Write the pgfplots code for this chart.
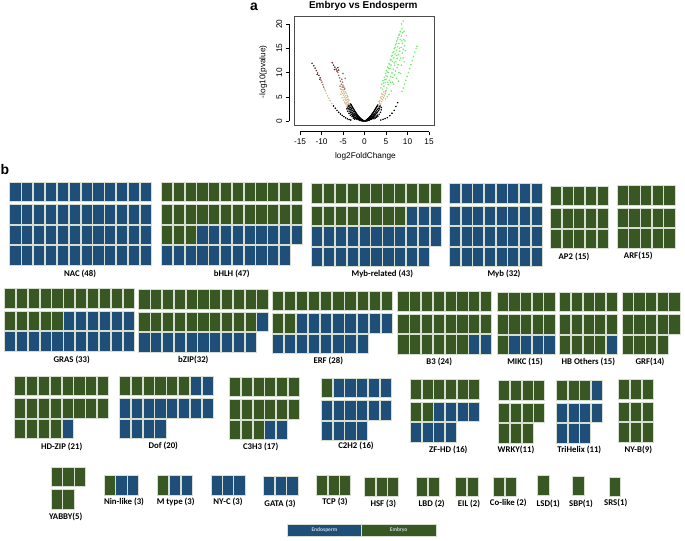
\documentclass[border=0pt]{standalone}
\usepackage{fontspec}
\setmainfont{Liberation Sans}
\newfontfamily\calfont{Carlito}
\usepackage{pgfplots}
\pgfplotsset{compat=1.18}
\definecolor{eblue}{RGB}{31,78,121}
\definecolor{egreen}{RGB}{57,87,35}
\definecolor{tedge}{RGB}{214,222,210}
\definecolor{vtan}{RGB}{208,188,146}
\definecolor{vrose}{RGB}{158,104,96}
\definecolor{vbrown}{RGB}{105,40,40}
\definecolor{vgreen}{RGB}{112,236,112}
\definecolor{legtxt}{RGB}{205,212,222}
\pgfdeclareplotmark{tile}{\pgfpathrectangle{\pgfpoint{-5.6bp}{-9.8bp}}{\pgfpoint{11.2bp}{19.6bp}}\pgfusepathqfillstroke}
\pgfplotsset{
 waf/.style={anchor=north west, scale only axis, hide axis, clip=false, y dir=reverse, xmin=0.5, ymin=0.4},
 tB/.style={only marks, mark=tile, mark options={fill=eblue, draw=tedge, line width=0.6bp}},
 tG/.style={only marks, mark=tile, mark options={fill=egreen, draw=tedge, line width=0.6bp}},
}
\tikzset{wl/.style={font=\calfont\bfseries\fontsize{8.8}{9}\selectfont, inner sep=0pt}}
\begin{document}
\begin{tikzpicture}
\useasboundingbox (0bp,0bp) rectangle (685bp,-541bp);
% ---------------- panel a: volcano plot ----------------
\begin{axis}[at={(294.3bp,-16.7bp)}, anchor=north west, scale only axis, width=140bp, height=108.3bp,
 xmin=-16.33, xmax=16.23, ymin=-0.82, ymax=21.5, xtick=\empty, ytick=\empty,
 axis line style={draw=black!70, line width=0.5bp}]
\addplot[only marks, mark=*, mark size=0.55bp, color=black] coordinates {(-0.2,0.02)(-0.3,0.05)(-0.4,0.03)(-0.5,0.08)(-0.5,0.15)(-0.6,0.05)(-0.7,0.12)(-0.7,0.2)(-0.8,0.1)(-0.9,0.25)(-0.9,0.15)(-1.0,0.2)(-1.0,0.35)(-1.1,0.15)(-1.1,0.4)(-1.2,0.3)(-1.3,0.5)(-1.3,0.25)(-1.4,0.4)(-1.5,0.6)(-1.5,0.3)(-1.6,0.8)(-1.7,0.5)(-1.7,0.9)(-1.8,0.4)(-1.9,1.0)(-1.9,0.6)(-2.0,1.2)(-2.0,0.5)(-2.1,0.8)(-2.2,1.4)(-2.2,0.7)(-2.3,1.1)(-2.4,1.6)(-2.4,0.8)(-2.5,1.3)(-2.6,1.9)(-2.6,1.0)(-2.7,1.5)(-2.8,2.2)(-2.8,1.2)(-2.9,1.8)(-3.0,2.5)(-3.0,1.4)(-3.1,2.1)(-3.2,2.8)(-3.2,1.7)(-3.3,2.4)(-3.4,3.1)(-3.4,2.0)(-3.5,2.7)(-3.6,3.3)(-3.6,2.3)(-3.7,3.0)(-3.8,2.6)
(-0.1,0.01)(-0.35,0.1)(-0.45,0.2)(-0.55,0.25)(-0.65,0.35)(-0.75,0.3)(-0.85,0.45)(-0.95,0.55)(-1.05,0.6)(-1.15,0.7)(-1.25,0.8)(-1.35,0.9)(-1.45,1.0)(-1.55,1.1)(-1.65,1.2)(-1.75,1.3)(-1.85,1.5)(-1.95,1.6)(-2.05,1.75)(-2.15,1.9)(-2.25,2.0)(-2.35,2.2)(-2.45,2.3)(-2.55,2.5)(-2.65,2.6)(-2.75,2.8)(-2.85,2.9)(-2.95,3.1)(-3.05,3.2)(-3.15,3.4)(-3.3,3.5)(-2.3,0.4)(-2.6,0.6)(-2.9,0.9)(-3.3,1.2)(-3.6,1.6)(-3.9,2.0)(-4.1,2.5)(-4.0,2.9)(-3.9,3.2)
(0.2,0.02)(0.3,0.06)(0.4,0.04)(0.5,0.1)(0.6,0.18)(0.6,0.06)(0.7,0.12)(0.8,0.22)(0.8,0.1)(0.9,0.3)(1.0,0.18)(1.0,0.35)(1.1,0.45)(1.1,0.22)(1.2,0.3)(1.3,0.55)(1.4,0.35)(1.4,0.7)(1.5,0.45)(1.6,0.85)(1.6,0.4)(1.7,0.6)(1.8,1.0)(1.8,0.5)(1.9,0.75)(2.0,1.2)(2.1,0.65)(2.1,0.95)(2.2,1.4)(2.3,1.1)(2.4,1.6)(2.4,0.8)(2.5,1.3)(2.6,1.85)(2.7,1.5)(2.7,1.0)(2.8,2.1)(2.9,1.7)(3.0,2.4)(3.0,1.2)(3.1,1.9)(3.2,2.6)(3.3,2.2)(3.4,2.9)(3.5,2.5)(3.6,3.1)
(0.1,0.01)(0.35,0.12)(0.45,0.2)(0.55,0.28)(0.65,0.35)(0.75,0.4)(0.85,0.5)(0.95,0.6)(1.05,0.65)(1.15,0.75)(1.25,0.85)(1.35,0.95)(1.45,1.05)(1.55,1.15)(1.65,1.3)(1.75,1.4)(1.85,1.55)(1.95,1.65)(2.05,1.8)(2.15,1.9)(2.25,2.05)(2.35,2.2)(2.45,2.35)(2.55,2.5)(2.65,2.65)(2.75,2.8)(2.85,2.95)(2.95,3.1)(3.1,3.3)(2.2,0.45)(2.5,0.6)(2.8,0.8)(3.1,1.0)(3.4,1.4)(3.7,1.8)(3.9,2.3)(3.9,2.8)
(-3.2,0.2)(-3.6,0.3)(-4.0,0.45)(-4.4,0.65)(-4.8,0.9)(-5.2,1.15)(-5.6,1.45)(-6.0,1.8)(-6.4,2.2)(-6.8,2.65)(-7.2,3.1)
(3.8,0.2)(4.3,0.35)(4.8,0.5)(5.3,0.7)(5.9,1.1)(6.4,1.6)(6.9,2.2)(7.3,3.0)(7.7,3.8)};
\addplot[only marks, mark=*, mark size=0.55bp, color=vtan] coordinates {(-7.6,3.6)(-8.0,4.2)(-8.3,4.7)(-8.6,5.2)(-8.9,5.7)(-9.1,6.2)(-9.3,6.6)
(-3.7,3.6)(-3.8,4.0)(-3.9,3.4)(-4.0,4.4)(-4.1,3.8)(-4.2,4.8)(-4.3,4.2)(-4.4,5.2)(-4.5,4.5)(-4.6,5.6)(-4.7,4.9)(-4.8,6.0)(-4.9,5.3)(-5.0,6.4)(-5.1,5.7)(-4.0,3.1)(-4.3,3.5)(-4.6,3.9)(-4.9,4.3)(-5.2,4.8)(-5.5,5.5)(-3.9,5.0)(-4.2,5.7)(-3.6,4.3)(-5.3,6.5)(-4.0,5.3)(-4.4,6.0)(-4.7,6.5)(-5.4,6.0)(-5.6,6.6)(-3.8,4.5)(-4.5,3.7)(-3.5,3.5)
(3.3,3.3)(3.5,3.7)(3.6,4.2)(3.8,3.5)(3.9,4.6)(4.0,4.0)(4.1,5.1)(4.2,4.4)(4.3,5.5)(4.4,4.8)(4.5,6.0)(4.6,5.2)(3.4,4.0)(3.7,4.9)(4.0,5.6)(4.8,5.6)(5.0,6.3)(4.9,4.6)(5.3,5.0)};
\addplot[only marks, mark=*, mark size=0.55bp, color=vrose] coordinates {(-5.2,7.0)(-5.4,7.6)(-5.6,8.2)(-5.3,8.6)(-5.8,8.9)(-6.0,9.4)(-5.0,7.4)(-4.8,7.0)(-5.1,8.0)(-6.2,10.0)(-4.6,6.6)(-5.7,7.2)(-4.5,8.8)(-5.0,9.8)(-9.5,7.0)(-9.7,7.5)(-9.9,8.0)(-10.1,8.4)};
\addplot[only marks, mark=*, mark size=0.55bp, color=vbrown] coordinates {(-7.5,12.0)(-7.2,11.5)(-6.9,11.1)(-6.6,10.7)(-6.4,10.3)(-7.0,10.6)(-6.2,11.0)(-6.0,10.5)(-10.3,8.9)(-10.6,9.4)(-10.9,9.9)(-11.2,10.4)(-11.5,10.9)(-11.8,11.4)(-12.2,11.9)(-10.4,8.6)(-11.0,9.6)};
\addplot[only marks, mark=*, mark size=0.55bp, color=vgreen] coordinates {(3.8,6.8)(4.0,7.6)(4.2,6.5)(4.3,8.3)(4.5,7.2)(4.6,9.0)(4.8,7.9)(4.9,9.8)(5.0,8.6)(5.1,10.4)(5.2,6.8)(5.3,9.2)(5.4,11.1)(5.5,7.5)(5.6,10.0)(5.7,11.8)(5.8,8.4)(5.9,10.8)(6.0,12.6)(6.1,9.2)(6.2,11.5)(6.3,13.4)(6.4,9.9)(6.5,12.3)(6.6,14.1)(6.7,10.7)(6.8,13.0)(6.9,14.9)(7.0,11.5)(7.1,13.8)(7.2,15.7)(7.3,12.2)(7.4,14.6)(7.5,16.5)(7.6,12.9)(7.7,15.3)(7.8,17.2)(7.9,13.7)(8.0,16.0)(8.1,17.9)(8.2,14.4)(8.3,16.8)(8.4,18.5)(8.5,15.2)(8.6,17.5)(8.7,19.0)(8.8,16.0)(8.9,18.2)(9.0,20.6)(9.1,16.8)(9.3,15.5)(9.0,13.0)(8.6,11.5)(8.0,10.0)(7.4,8.8)(6.8,7.6)(6.2,6.2)(5.7,5.5)(4.9,6.0)(7.9,8.2)(8.4,9.8)(9.2,12.2)(9.5,14.5)(9.7,17.6)(6.5,8.0)(7.0,9.5)(7.6,11.0)(8.2,12.5)(8.8,14.0)
(4.4,7.8)(4.7,8.5)(5.0,9.3)(5.3,10.1)(5.6,10.9)(5.9,11.7)(6.2,12.6)(6.5,13.5)(6.8,14.3)(7.1,15.2)(7.4,16.0)(7.7,16.9)(8.0,17.7)(8.3,18.4)(6.0,8.0)(6.6,9.0)(7.2,10.3)(7.8,11.6)(8.4,13.0)(9.0,14.8)(9.4,16.5)(9.2,18.5)(8.6,20.0)(5.4,8.0)(6.9,12.0)(7.5,13.5)(8.1,15.0)(8.7,16.5)
(8.7,6.1)(9.0,6.8)(9.3,7.6)(9.6,8.4)(9.9,9.2)(10.2,10.0)(10.5,10.8)(10.8,11.6)(11.1,12.4)(11.4,13.3)(11.7,14.2)(12.0,15.0)(12.2,15.4)};
\end{axis}
\begin{axis}[at={(300bp,-24bp)}, anchor=north west, scale only axis, width=129bp, height=97bp,
 xmin=-15, xmax=15, ymin=0, ymax=20, axis x line*=bottom, axis y line*=left,
 axis line style={-, line width=0.5bp},
 xtick={-15,-10,-5,0,5,10,15}, ytick={0,5,10,15,20},
 tick align=outside, major tick length=3.5bp, tick style={line width=0.5bp, black},
 x axis line style={yshift=-10.7bp}, y axis line style={xshift=-10.7bp},
 xtick style={yshift=-10.7bp}, ytick style={xshift=-10.7bp},
 xticklabel style={yshift=-10.7bp}, yticklabel style={xshift=-10.7bp, rotate=90, anchor=south},
 tick label style={font=\fontsize{8.3}{9}\selectfont},
 /pgf/number format/assume math mode=true]
\end{axis}
\node[font=\bfseries\fontsize{10}{11}\selectfont] at (363.3bp,-6bp) {Embryo vs Endosperm};
\node[font=\fontsize{8.3}{9}\selectfont] at (365.5bp,-156.7bp) {log2FoldChange};
\node[font=\fontsize{8.3}{9}\selectfont, rotate=90] at (263.3bp,-71.7bp) {-log10(pvalue)};
\node[font=\bfseries\fontsize{14}{15}\selectfont] at (254bp,-7.3bp) {a};
\node[font=\bfseries\fontsize{14}{15}\selectfont] at (5bp,-170bp) {b};
% ---------------- panel b: waffle grids ----------------
% NAC
\begin{axis}[waf, at={(9.3bp,-181.7bp)}, width=142.44bp, height=83.64bp, xmax=12.5, ymax=4.5]
\addplot[tB] coordinates {(1,0.9)(2,0.9)(3,0.9)(4,0.9)(5,0.9)(6,0.9)(7,0.9)(8,0.9)(9,0.9)(10,0.9)(11,0.9)(12,0.9)(1,2)(2,2)(3,2)(4,2)(5,2)(6,2)(7,2)(8,2)(9,2)(10,2)(11,2)(12,2)(1,3)(2,3)(3,3)(4,3)(5,3)(6,3)(7,3)(8,3)(9,3)(10,3)(11,3)(12,3)(1,4)(2,4)(3,4)(4,4)(5,4)(6,4)(7,4)(8,4)(9,4)(10,4)(11,4)(12,4)};
\end{axis}
% bHLH
\begin{axis}[waf, at={(161bp,-181.7bp)}, width=141.6bp, height=83.64bp, xmax=12.5, ymax=4.5]
\addplot[tG] coordinates {(1,0.9)(2,0.9)(3,0.9)(4,0.9)(5,0.9)(6,0.9)(7,0.9)(8,0.9)(9,0.9)(10,0.9)(11,0.9)(12,0.9)(1,2)(2,2)(3,2)(4,2)(5,2)(6,2)(7,2)(8,2)(9,2)(10,2)(11,2)(12,2)(1,3)(2,3)(3,3)};
\addplot[tB] coordinates {(4,3)(5,3)(6,3)(7,3)(8,3)(9,3)(10,3)(11,3)(12,3)(1,4)(2,4)(3,4)(4,4)(5,4)(6,4)(7,4)(8,4)(9,4)(10,4)(11,4)};
\end{axis}
% Myb-related
\begin{axis}[waf, at={(311bp,-183.3bp)}, width=130.68bp, height=83.64bp, xmax=11.5, ymax=4.5]
\addplot[tG] coordinates {(1,0.9)(2,0.9)(3,0.9)(4,0.9)(5,0.9)(6,0.9)(7,0.9)(8,0.9)(9,0.9)(10,0.9)(11,0.9)(1,2)(2,2)(3,2)(4,2)(5,2)(6,2)(7,2)(8,2)};
\addplot[tB] coordinates {(9,2)(10,2)(11,2)(1,3)(2,3)(3,3)(4,3)(5,3)(6,3)(7,3)(8,3)(9,3)(10,3)(11,3)(1,4)(2,4)(3,4)(4,4)(5,4)(6,4)(7,4)(8,4)(9,4)(10,4)};
\end{axis}
% Myb
\begin{axis}[waf, at={(449bp,-183.3bp)}, width=93.36bp, height=83.64bp, xmax=8.5, ymax=4.5]
\addplot[tB] coordinates {(1,0.9)(2,0.9)(3,0.9)(4,0.9)(5,0.9)(6,0.9)(7,0.9)(8,0.9)(1,2)(2,2)(3,2)(4,2)(5,2)(6,2)(7,2)(8,2)(1,3)(2,3)(3,3)(4,3)(5,3)(6,3)(7,3)(8,3)(1,4)(2,4)(3,4)(4,4)(5,4)(6,4)(7,4)(8,4)};
\end{axis}
% AP2
\begin{axis}[waf, at={(550bp,-185.7bp)}, width=58.35bp, height=63.24bp, xmax=5.5, ymax=3.5]
\addplot[tG] coordinates {(1,0.9)(2,0.9)(3,0.9)(4,0.9)(5,0.9)(1,2)(2,2)(3,2)(4,2)(5,2)(1,3)(2,3)(3,3)(4,3)(5,3)};
\end{axis}
% ARF
\begin{axis}[waf, at={(616.7bp,-185bp)}, width=58.35bp, height=63.24bp, xmax=5.5, ymax=3.5]
\addplot[tG] coordinates {(1,0.9)(2,0.9)(3,0.9)(4,0.9)(5,0.9)(1,2)(2,2)(3,2)(4,2)(5,2)(1,3)(2,3)(3,3)(4,3)(5,3)};
\end{axis}
% GRAS
\begin{axis}[waf, at={(4bp,-288.3bp)}, width=130.35bp, height=63.24bp, xmax=11.5, ymax=3.5]
\addplot[tG] coordinates {(1,0.9)(2,0.9)(3,0.9)(4,0.9)(5,0.9)(6,0.9)(7,0.9)(8,0.9)(9,0.9)(10,0.9)(11,0.9)(1,2)(2,2)(3,2)(4,2)(5,2)};
\addplot[tB] coordinates {(6,2)(7,2)(8,2)(9,2)(10,2)(11,2)(1,3)(2,3)(3,3)(4,3)(5,3)(6,3)(7,3)(8,3)(9,3)(10,3)(11,3)};
\end{axis}
% bZIP
\begin{axis}[waf, at={(138.3bp,-289.3bp)}, width=129.8bp, height=63.24bp, xmax=11.5, ymax=3.5]
\addplot[tG] coordinates {(1,0.9)(2,0.9)(3,0.9)(4,0.9)(5,0.9)(6,0.9)(7,0.9)(8,0.9)(9,0.9)(10,0.9)(11,0.9)(1,2)(2,2)(3,2)(4,2)(5,2)(6,2)(7,2)(8,2)(9,2)(10,2)};
\addplot[tB] coordinates {(11,2)(1,3)(2,3)(3,3)(4,3)(5,3)(6,3)(7,3)(8,3)(9,3)(10,3)};
\end{axis}
% ERF
\begin{axis}[waf, at={(271.7bp,-290.7bp)}, width=121bp, height=63.24bp, xmax=10.5, ymax=3.5]
\addplot[tG] coordinates {(1,0.9)(2,0.9)(3,0.9)(4,0.9)(5,0.9)(6,0.9)(7,0.9)(8,0.9)(9,0.9)(10,0.9)(1,2)(2,2)};
\addplot[tB] coordinates {(3,2)(4,2)(5,2)(6,2)(7,2)(8,2)(9,2)(10,2)(1,3)(2,3)(3,3)(4,3)(5,3)(6,3)(7,3)(8,3)};
\end{axis}
% B3
\begin{axis}[waf, at={(397.3bp,-291bp)}, width=94.4bp, height=63.24bp, xmax=8.5, ymax=3.5]
\addplot[tG] coordinates {(1,0.9)(2,0.9)(3,0.9)(4,0.9)(5,0.9)(6,0.9)(7,0.9)(8,0.9)(1,2)(2,2)(3,2)(4,2)(5,2)(6,2)(7,2)(8,2)(1,3)(2,3)(3,3)(4,3)(5,3)(6,3)};
\addplot[tB] coordinates {(7,3)(8,3)};
\end{axis}
% MIKC
\begin{axis}[waf, at={(496.7bp,-291.7bp)}, width=58.35bp, height=63.24bp, xmax=5.5, ymax=3.5]
\addplot[tG] coordinates {(1,0.9)(2,0.9)(3,0.9)(4,0.9)(5,0.9)(1,2)(2,2)(3,2)(4,2)(5,2)(1,3)};
\addplot[tB] coordinates {(2,3)(3,3)(4,3)(5,3)};
\end{axis}
% HB Others
\begin{axis}[waf, at={(559.3bp,-291.7bp)}, width=58.35bp, height=63.24bp, xmax=5.5, ymax=3.5]
\addplot[tG] coordinates {(1,0.9)(2,0.9)(3,0.9)(4,0.9)(5,0.9)(1,2)(2,2)(3,2)(4,2)(5,2)(1,3)(2,3)(3,3)(4,3)};
\addplot[tB] coordinates {(5,3)};
\end{axis}
% GRF
\begin{axis}[waf, at={(621.7bp,-291.7bp)}, width=58.35bp, height=63.24bp, xmax=5.5, ymax=3.5]
\addplot[tG] coordinates {(1,0.9)(2,0.9)(3,0.9)(4,0.9)(5,0.9)(1,2)(2,2)(3,2)(4,2)(5,2)(1,3)(2,3)(3,3)(4,3)};
\end{axis}
% HD-ZIP
\begin{axis}[waf, at={(14bp,-375.7bp)}, width=95bp, height=63.24bp, xmax=8.5, ymax=3.5]
\addplot[tG] coordinates {(1,0.9)(2,0.9)(3,0.9)(4,0.9)(5,0.9)(6,0.9)(7,0.9)(8,0.9)(1,2)(2,2)(3,2)(4,2)(5,2)(6,2)(7,2)(8,2)(1,3)(2,3)(3,3)(4,3)};
\addplot[tB] coordinates {(5,3)};
\end{axis}
% Dof
\begin{axis}[waf, at={(119bp,-375.7bp)}, width=94.4bp, height=63.24bp, xmax=8.5, ymax=3.5]
\addplot[tG] coordinates {(1,0.9)(2,0.9)(3,0.9)(4,0.9)(5,0.9)(6,0.9)};
\addplot[tB] coordinates {(7,0.9)(8,0.9)(1,2)(2,2)(3,2)(4,2)(5,2)(6,2)(7,2)(8,2)(1,3)(2,3)(3,3)(4,3)};
\end{axis}
% C3H3
\begin{axis}[waf, at={(229.3bp,-376.7bp)}, width=70bp, height=63.24bp, xmax=6.5, ymax=3.5]
\addplot[tG] coordinates {(1,0.9)(2,0.9)(3,0.9)(4,0.9)(5,0.9)(6,0.9)(1,2)(2,2)(3,2)(4,2)(5,2)(6,2)(1,3)(2,3)(3,3)};
\addplot[tB] coordinates {(4,3)(5,3)};
\end{axis}
% C2H2
\begin{axis}[waf, at={(320.7bp,-377.7bp)}, width=70.8bp, height=63.24bp, xmax=6.5, ymax=3.5]
\addplot[tG] coordinates {(1,0.9)};
\addplot[tB] coordinates {(2,0.9)(3,0.9)(4,0.9)(5,0.9)(6,0.9)(1,2)(2,2)(3,2)(4,2)(5,2)(6,2)(1,3)(2,3)(3,3)(4,3)};
\end{axis}
% ZF-HD
\begin{axis}[waf, at={(410bp,-379bp)}, width=70bp, height=63.24bp, xmax=6.5, ymax=3.5]
\addplot[tG] coordinates {(1,0.9)(2,0.9)(3,0.9)(4,0.9)(5,0.9)(6,0.9)(1,2)(2,2)};
\addplot[tB] coordinates {(3,2)(4,2)(5,2)(6,2)(1,3)(2,3)(3,3)(4,3)};
\end{axis}
% WRKY
\begin{axis}[waf, at={(498.3bp,-380bp)}, width=46.7bp, height=63.24bp, xmax=4.5, ymax=3.5]
\addplot[tG] coordinates {(1,0.9)(2,0.9)(3,0.9)(4,0.9)(1,2)(2,2)(3,2)(4,2)(1,3)(2,3)(3,3)};
\end{axis}
% TriHelix
\begin{axis}[waf, at={(556bp,-380bp)}, width=46.7bp, height=63.24bp, xmax=4.5, ymax=3.5]
\addplot[tG] coordinates {(1,0.9)(2,0.9)(3,0.9)};
\addplot[tB] coordinates {(4,0.9)(1,2)(2,2)(3,2)(4,2)(1,3)(2,3)(3,3)};
\end{axis}
% NY-B
\begin{axis}[waf, at={(618.3bp,-379bp)}, width=35bp, height=63.24bp, xmax=3.5, ymax=3.5]
\addplot[tG] coordinates {(1,0.9)(2,0.9)(3,0.9)(1,2)(2,2)(3,2)(1,3)(2,3)(3,3)};
\end{axis}
% YABBY
\begin{axis}[waf, at={(50.7bp,-466.7bp)}, width=35bp, height=42.84bp, xmax=3.5, ymax=2.5]
\addplot[tG] coordinates {(1,0.9)(2,0.9)(3,0.9)(1,2)(2,2)};
\end{axis}
% Nin-like
\begin{axis}[waf, at={(104.3bp,-475bp)}, width=34bp, height=22.44bp, xmax=3.5, ymax=1.5]
\addplot[tG] coordinates {(1,0.9)};
\addplot[tB] coordinates {(2,0.9)(3,0.9)};
\end{axis}
% M type
\begin{axis}[waf, at={(157.3bp,-475bp)}, width=35bp, height=22.44bp, xmax=3.5, ymax=1.5]
\addplot[tG] coordinates {(1,0.9)};
\addplot[tB] coordinates {(2,0.9)(3,0.9)};
\end{axis}
% NY-C
\begin{axis}[waf, at={(211bp,-475bp)}, width=34bp, height=22.44bp, xmax=3.5, ymax=1.5]
\addplot[tB] coordinates {(1,0.9)(2,0.9)(3,0.9)};
\end{axis}
% GATA
\begin{axis}[waf, at={(262.7bp,-475.7bp)}, width=35.6bp, height=22.44bp, xmax=3.5, ymax=1.5]
\addplot[tB] coordinates {(1,0.9)(2,0.9)(3,0.9)};
\end{axis}
% TCP
\begin{axis}[waf, at={(316bp,-475bp)}, width=35bp, height=22.44bp, xmax=3.5, ymax=1.5]
\addplot[tG] coordinates {(1,0.9)(2,0.9)(3,0.9)};
\end{axis}
% HSF
\begin{axis}[waf, at={(364bp,-476.7bp)}, width=35bp, height=22.44bp, xmax=3.5, ymax=1.5]
\addplot[tG] coordinates {(1,0.9)(2,0.9)(3,0.9)};
\end{axis}
% LBD
\begin{axis}[waf, at={(416bp,-476.7bp)}, width=23.3bp, height=22.44bp, xmax=2.5, ymax=1.5]
\addplot[tG] coordinates {(1,0.9)(2,0.9)};
\end{axis}
% EIL
\begin{axis}[waf, at={(455bp,-476.7bp)}, width=23.3bp, height=22.44bp, xmax=2.5, ymax=1.5]
\addplot[tG] coordinates {(1,0.9)(2,0.9)};
\end{axis}
% Co-like
\begin{axis}[waf, at={(493.3bp,-476.7bp)}, width=23.3bp, height=22.44bp, xmax=2.5, ymax=1.5]
\addplot[tG] coordinates {(1,0.9)(2,0.9)};
\end{axis}
% LSD
\begin{axis}[waf, at={(537.7bp,-475bp)}, width=11.3bp, height=22.44bp, xmax=1.5, ymax=1.5]
\addplot[tG] coordinates {(1,0.9)};
\end{axis}
% SBP
\begin{axis}[waf, at={(572.7bp,-475.7bp)}, width=11.3bp, height=22.44bp, xmax=1.5, ymax=1.5]
\addplot[tG] coordinates {(1,0.9)};
\end{axis}
% SRS
\begin{axis}[waf, at={(609.3bp,-476.7bp)}, width=11.3bp, height=22.44bp, xmax=1.5, ymax=1.5]
\addplot[tG] coordinates {(1,0.9)};
\end{axis}
% labels
\node[wl] at (80bp,-274bp) {NAC (48)};
\node[wl] at (231.7bp,-274bp) {bHLH (47)};
\node[wl] at (382.3bp,-274bp) {Myb-related (43)};
\node[wl] at (504bp,-274bp) {Myb (32)};
\node[wl] at (574bp,-256.7bp) {AP2 (15)};
\node[wl] at (638.3bp,-256bp) {ARF(15)};
\node[wl] at (71.7bp,-360bp) {GRAS (33)};
\node[wl] at (193.3bp,-360bp) {bZIP(32)};
\node[wl] at (328.3bp,-361bp) {ERF (28)};
\node[wl] at (439.3bp,-361.7bp) {B3 (24)};
\node[wl] at (525bp,-361.7bp) {MIKC (15)};
\node[wl] at (588.3bp,-361.7bp) {HB Others (15)};
\node[wl] at (650bp,-362.3bp) {GRF(14)};
\node[wl] at (61.7bp,-446.7bp) {HD-ZIP (21)};
\node[wl] at (163.3bp,-446bp) {Dof (20)};
\node[wl] at (260.7bp,-446.7bp) {C3H3 (17)};
\node[wl] at (356bp,-446bp) {C2H2 (16)};
\node[wl] at (448.3bp,-450bp) {ZF-HD (16)};
\node[wl] at (516bp,-450bp) {WRKY(11)};
\node[wl] at (579.3bp,-450bp) {TriHelix (11)};
\node[wl] at (638.3bp,-450bp) {NY-B(9)};
\node[wl] at (65.7bp,-516.7bp) {YABBY(5)};
\node[wl] at (124bp,-502.3bp) {Nin-like (3)};
\node[wl] at (175.7bp,-502.3bp) {M type (3)};
\node[wl] at (228bp,-502.3bp) {NY-C (3)};
\node[wl] at (280bp,-504.3bp) {GATA (3)};
\node[wl] at (335bp,-502.3bp) {TCP (3)};
\node[wl] at (383.3bp,-504bp) {HSF (3)};
\node[wl] at (431.7bp,-504bp) {LBD (2)};
\node[wl] at (469bp,-504bp) {EIL (2)};
\node[wl] at (508.3bp,-502.7bp) {Co-like (2)};
\node[wl] at (548.3bp,-504bp) {LSD(1)};
\node[wl] at (581bp,-504bp) {SBP(1)};
\node[wl] at (615.7bp,-503.3bp) {SRS(1)};
% legend
\node[fill=eblue, draw=tedge, line width=0.6bp, minimum width=73.7bp, minimum height=11.7bp, inner sep=0pt, anchor=north west, text=legtxt, font=\calfont\bfseries\fontsize{5.5}{6}\selectfont] at (287.3bp,-524.3bp) {Endosperm};
\node[fill=egreen, draw=tedge, line width=0.6bp, minimum width=74.7bp, minimum height=11.7bp, inner sep=0pt, anchor=north west, text=legtxt, font=\calfont\bfseries\fontsize{5.5}{6}\selectfont] at (361bp,-524.3bp) {Embryo};
\end{tikzpicture}
\end{document}
